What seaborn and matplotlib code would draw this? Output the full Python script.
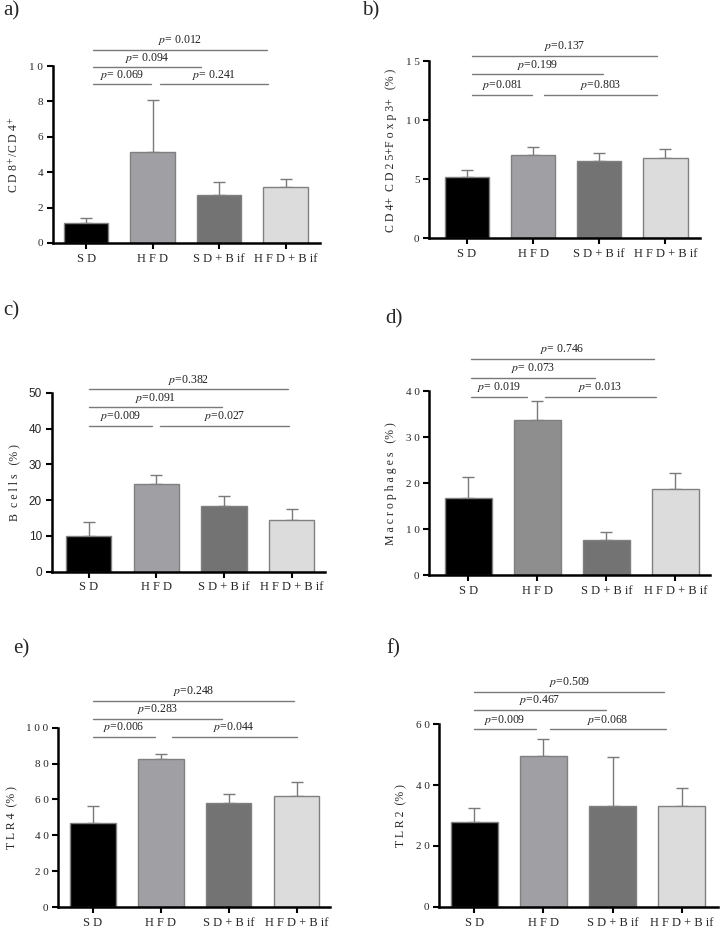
import numpy as np
import pandas as pd
import seaborn as sns
import matplotlib
matplotlib.use('Agg')
import matplotlib.pyplot as plt

# groups
groups = ['SD', 'HFD', 'SD+Bif', 'HFD+Bif']
group_labels = ['S D', 'H F D', 'S D + B if', 'H F D + B if']

# means and upper error (SEM) per panel
cd8_mean = [1.13, 5.13, 2.7, 3.18]
cd8_err = [0.3, 2.93, 0.72, 0.42]
treg_mean = [5.17, 7.08, 6.53, 6.82]
treg_err = [0.65, 0.7, 0.73, 0.73]
bcell_mean = [9.98, 24.6, 18.3, 14.4]
bcell_err = [3.8, 2.45, 2.8, 3.0]
macro_mean = [16.75, 33.8, 7.7, 18.7]
macro_err = [4.55, 4.1, 1.76, 3.5]
tlr4_mean = [46.8, 82.4, 58.1, 61.8]
tlr4_err = [9.3, 2.8, 5.2, 8.0]
tlr2_mean = [27.8, 49.6, 33.1, 33.0]
tlr2_err = [4.7, 5.6, 16.1, 6.2]

# p values: SD vs HFD+Bif, SD vs SD+Bif, SD vs HFD, HFD vs HFD+Bif
cd8_p = ['0.012', '0.094', '0.069', '0.241']
treg_p = ['0.137', '0.199', '0.081', '0.803']
bcell_p = ['0.382', '0.091', '0.009', '0.027']
macro_p = ['0.746', '0.073', '0.019', '0.013']
tlr4_p = ['0.248', '0.283', '0.006', '0.044']
tlr2_p = ['0.509', '0.467', '0.009', '0.068']

sns.set_style('ticks')
plt.rcParams['font.family'] = ['Liberation Serif', 'DejaVu Serif']
plt.rcParams['mathtext.fontset'] = 'stix'

bar_colors = ['#000000', '#a0a0a4', '#737373', '#dcdcdc']
bar_colors_d = ['#000000', '#8e8e8e', '#737373', '#dcdcdc']

fig = plt.figure(figsize=(7.2, 9.31), dpi=100)

# layout: axes rect, ylim, yticks, ylabel, bracket heights, bracket x ends
panels = [
    dict(rect=[0.0736, 0.739, 0.371, 0.190], mean=cd8_mean, err=cd8_err, p=cd8_p,
         ymax=10, yticks=[0, 2, 4, 6, 8, 10], ylabel='C D 8$^+$/C D 4$^+$',
         levels=[10.92, 9.94, 8.97], xl=0.1, xr=[2.72, 1.73, 0.98], x2=1.11, x2r=2.74,
         sep='= ', tag='a)', tagpos=(0.004, 0.978), xlim=(-0.5, 3.52), colors=bar_colors),
    dict(rect=[0.596, 0.744, 0.376, 0.190], mean=treg_mean, err=treg_err, p=treg_p,
         ymax=15, yticks=[0, 5, 10, 15], ylabel='C D 4+  C D 2 5+F o x p 3+   (% )',
         levels=[15.5, 13.9, 12.15], xl=0.08, xr=[2.88, 2.06, 0.99], x2=1.17, x2r=2.88,
         sep='=', tag='b)', tagpos=(0.503, 0.978), xlim=(-0.57, 3.52), colors=bar_colors),
    dict(rect=[0.0718, 0.386, 0.380, 0.192], mean=bcell_mean, err=bcell_err, p=bcell_p,
         ymax=50, yticks=[0, 10, 20, 30, 40, 50], ylabel='B  c e l l s   (% )',
         levels=[51.0, 46.0, 40.8], xl=0.0, xr=[2.95, 1.97, 0.93], x2=1.06, x2r=2.97,
         sep='=', tag='c)', tagpos=(0.004, 0.656), xlim=(-0.55, 3.5), colors=bar_colors,
         sans=True),
    dict(rect=[0.596, 0.382, 0.390, 0.198], mean=macro_mean, err=macro_err, p=macro_p,
         ymax=40, yticks=[0, 10, 20, 30, 40], ylabel='M a c r o p h a g e s   (% )',
         levels=[46.9, 42.8, 38.7], xl=0.03, xr=[2.69, 1.84, 0.85], x2=1.11, x2r=2.72,
         sep='= ', tag='d)', tagpos=(0.535, 0.647), xlim=(-0.57, 3.5), colors=bar_colors_d),
    dict(rect=[0.081, 0.0255, 0.377, 0.193], mean=tlr4_mean, err=tlr4_err, p=tlr4_p,
         ymax=100, yticks=[0, 20, 40, 60, 80, 100], ylabel='T L R 4  (% )',
         levels=[114.8, 104.8, 95.0], xl=0.0, xr=[2.97, 1.9, 0.92], x2=1.16, x2r=3.0,
         sep='=', tag='e)', tagpos=(0.018, 0.293), xlim=(-0.51, 3.49), colors=bar_colors),
    dict(rect=[0.610, 0.026, 0.3875, 0.196], mean=tlr2_mean, err=tlr2_err, p=tlr2_p,
         ymax=60, yticks=[0, 20, 40, 60], ylabel='T L R 2  (% )',
         levels=[70.6, 64.8, 58.3], xl=0.0, xr=[2.75, 1.9, 0.89], x2=1.09, x2r=2.77,
         sep='=', tag='f)', tagpos=(0.537, 0.293), xlim=(-0.51, 3.53), colors=bar_colors),
]

for pn in panels:
    ax = fig.add_axes(pn['rect'])
    df = pd.DataFrame({'group': groups, 'value': pn['mean']})
    sns.barplot(data=df, x='group', y='value', hue='group', palette=pn['colors'],
                order=groups, hue_order=groups, legend=False, width=0.67,
                edgecolor='#808080', linewidth=1, ax=ax, zorder=2)
    ax.errorbar(range(4), pn['mean'], yerr=[[0] * 4, pn['err']], fmt='none',
                ecolor='#7a7a7a', elinewidth=1, capsize=4.2, capthick=1, zorder=1)
    ax.set_ylim(0, pn['ymax'])
    ax.set_xlim(*pn['xlim'])
    ax.set_yticks(pn['yticks'])
    if pn.get('sans'):
        ax.set_yticklabels([str(v) for v in pn['yticks']], family='Liberation Sans', fontsize=8.5)
    else:
        ax.set_yticklabels([' '.join(str(v)) for v in pn['yticks']], fontsize=8)
    ax.set_xticks(range(4))
    ax.set_xticklabels(group_labels, fontsize=9)
    ax.set_xlabel('')
    ax.set_ylabel(pn['ylabel'], fontsize=8.5, labelpad=6)
    sns.despine(ax=ax)
    for s in ['left', 'bottom']:
        ax.spines[s].set_linewidth(1.8)
        ax.spines[s].set_color('black')
    ax.tick_params(axis='both', width=1.5, length=4, color='black', pad=3)

    # brackets with p values
    lv = pn['levels']
    rng = pn['ymax']
    lines = [(pn['xl'], pn['xr'][0], lv[0], pn['p'][0]),
             (pn['xl'], pn['xr'][1], lv[1], pn['p'][1]),
             (pn['xl'], pn['xr'][2], lv[2], pn['p'][2]),
             (pn['x2'], pn['x2r'], lv[2], pn['p'][3])]
    for x0, x1, y, pv in lines:
        ax.plot([x0, x1], [y, y], color='#7a7a7a', lw=1, clip_on=False)
        ax.text((x0 + x1) / 2, y + rng * 0.015, '$p$' + pn['sep'] + pv,
                ha='center', va='bottom', fontsize=8.5, color='#222222')
    fig.text(pn['tagpos'][0], pn['tagpos'][1], pn['tag'], fontsize=15, va='bottom')

fig.savefig('out.png', dpi=100)
